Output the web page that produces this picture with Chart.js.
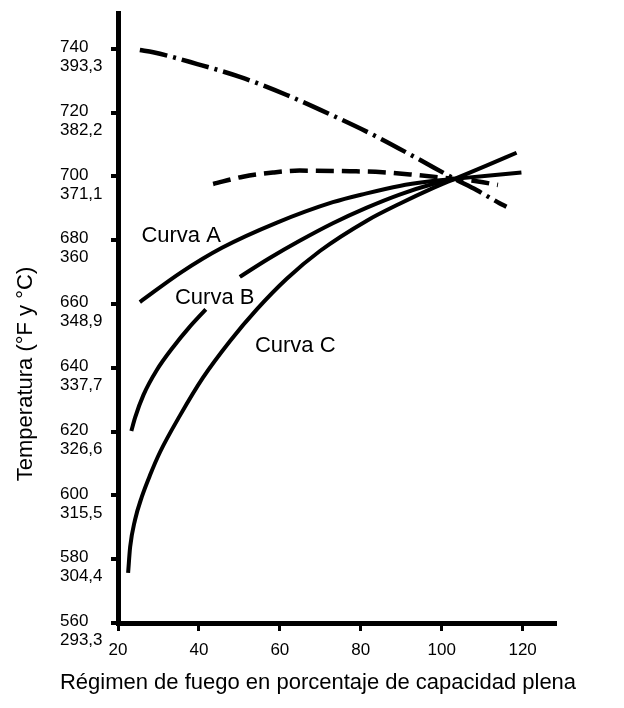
<!DOCTYPE html>
<html>
<head>
<meta charset="utf-8">
<script src="https://cdn.jsdelivr.net/npm/chart.js@4.4.1/dist/chart.umd.min.js"></script>
<style>
  html, body { margin: 0; padding: 0; background: #fff; }
  canvas { display: block; }
</style>
</head>
<body>
<canvas id="chart" width="624" height="708"></canvas>
<script>
// ticks: °F on the axis, °C printed under each value
const xTicks = [20, 40, 60, 80, 100, 120];
const yTicksF = [560, 580, 600, 620, 640, 660, 680, 700, 720, 740];
const yTicksC = ['293,3', '304,4', '315,5', '326,6', '337,7', '348,9', '360', '371,1', '382,2', '393,3'];

// curva A
const curveAX = [25.4, 35.6, 45.7, 59.3, 73.1, 81.2, 89.6, 96.3, 103.2, 111.9, 119.7];
const curveAY = [660.6, 669.9, 677.6, 685.5, 691.9, 694.6, 697.0, 698.3, 699.2, 700.3, 701.2];

// curva B (cortada donde va el rótulo)
const curveBX = [23.3, 24.2, 26.3, 29.6, 33.7, 37.5, 41.7, 46, 50.1, 57.5, 64.9, 73.1, 81.5, 89.6, 97.8, 103.2];
const curveBY = [620.2, 624.3, 631.5, 639.3, 646.6, 652.5, 658.3, null, 668.5, 674.4, 679.8, 685.3, 690.2, 694.3, 697.6, 699.2];

// curva C
const curveCX = [22.5, 23.0, 24.2, 25.9, 27.9, 30.4, 35.3, 41.0, 47.7, 54.3, 61.7, 69.9, 81.5, 89.6, 97.8, 103.2, 110.9, 118.5];
const curveCY = [575.7, 583.8, 592.3, 599.6, 606.3, 613.6, 625.0, 636.9, 648.4, 658.3, 667.9, 676.6, 686.1, 691.4, 696.3, 699.2, 703.3, 707.4];

// línea de trazos
const dashX = [43.5, 50.9, 58.3, 64.9, 77.3, 85.4, 93.8, 103.2, 109.0, 113.9];
const dashY = [697.6, 699.9, 701.2, 701.8, 701.6, 701.3, 700.4, 699.2, 698.4, 697.3];

// línea de trazo y punto
const dashDotX = [25.4, 28.7, 39.6, 50.3, 61.7, 72.8, 84.0, 94.7, 103.2, 108.6, 114.3, 116.0];
const dashDotY = [739.6, 738.9, 735.2, 731.1, 725.5, 719.2, 712.4, 705.1, 699.2, 695.7, 691.6, 690.5];

const curveNames = ['Curva A', 'Curva B', 'Curva C'];
const curveNameX = [35.6, 43.9, 63.8];
const curveNameY = [681.3, 661.9, 646.7];

const FONT = '"Liberation Sans", Arial, Helvetica, sans-serif';

const pts = (xs, ys) => xs.map((x, i) => ({ x, y: ys[i] }));

function lineSet(xs, ys, dash, width) {
  return {
    data: pts(xs, ys),
    borderColor: '#000',
    borderWidth: width,
    borderDash: dash,
    pointRadius: 0,
    cubicInterpolationMode: 'monotone',
    spanGaps: false,
    fill: false
  };
}

// titles and curve names drawn straight on the canvas
const textPlugin = {
  id: 'textPlugin',
  afterDatasetsDraw(chart) {
    const { ctx, scales } = chart;
    ctx.save();
    ctx.fillStyle = '#000';
    ctx.font = '22px ' + FONT;
    ctx.textAlign = 'center';
    ctx.textBaseline = 'middle';
    curveNames.forEach((name, i) => {
      ctx.fillText(name, scales.x.getPixelForValue(curveNameX[i]), scales.y.getPixelForValue(curveNameY[i]));
    });

    ctx.textBaseline = 'alphabetic';
    ctx.fillText('Régimen de fuego en porcentaje de capacidad plena', 318, 689);

    ctx.translate(32, 374);
    ctx.rotate(-Math.PI / 2);
    ctx.fillText('Temperatura (°F y °C)', 0, 0);
    ctx.restore();
  }
};

new Chart(document.getElementById('chart'), {
  type: 'line',
  data: {
    datasets: [
      lineSet(dashDotX, dashDotY, [28, 6, 3, 6], 4.5),
      lineSet(dashX, dashY, [18, 8], 4.5),
      lineSet(curveAX, curveAY, [], 4),
      lineSet(curveBX, curveBY, [], 4),
      lineSet(curveCX, curveCY, [], 4)
    ]
  },
  options: {
    responsive: false,
    animation: false,
    devicePixelRatio: 1,
    layout: { padding: { left: 60, right: 69, top: 13, bottom: 0 } },
    plugins: { legend: { display: false }, tooltip: { enabled: false } },
    scales: {
      x: {
        type: 'linear',
        min: 20,
        max: 128,
        afterFit: s => { s.height = 85; s.paddingLeft = 0; s.paddingRight = 0; },
        afterBuildTicks: s => { s.ticks = xTicks.map(v => ({ value: v })); },
        border: { color: '#000', width: 5 },
        grid: { drawOnChartArea: false, color: '#000', lineWidth: 3, tickLength: 8 },
        ticks: { color: '#000', font: { family: FONT, size: 17 }, padding: 9, maxRotation: 0 }
      },
      y: {
        min: 560,
        max: 751.2,
        afterFit: s => { s.width = 58; s.paddingTop = 0; s.paddingBottom = 0; },
        afterBuildTicks: s => { s.ticks = yTicksF.map(v => ({ value: v })); },
        border: { color: '#000', width: 5 },
        grid: { drawOnChartArea: false, color: '#000', lineWidth: 4, tickLength: 7 },
        ticks: {
          color: '#000',
          font: { family: FONT, size: 17, lineHeight: 1.12 },
          crossAlign: 'far',
          labelOffset: 8,
          callback: v => [String(v), yTicksC[yTicksF.indexOf(v)]]
        }
      }
    }
  },
  plugins: [textPlugin]
});
</script>
</body>
</html>
